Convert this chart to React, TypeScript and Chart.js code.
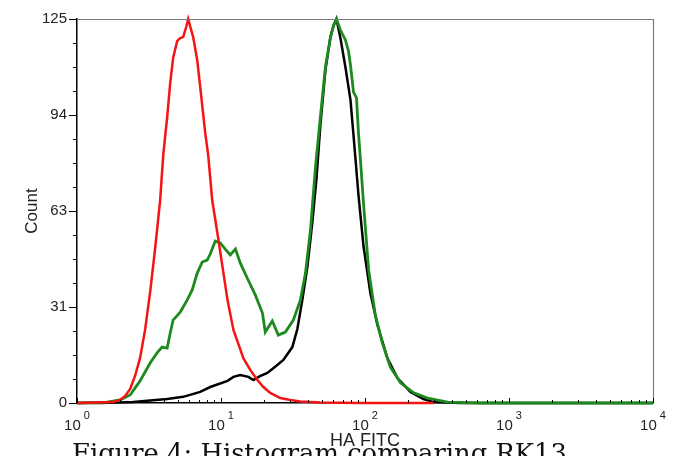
import React, { useEffect, useRef } from 'react';
import { Chart, registerables } from 'chart.js';

Chart.register(...registerables);

// ---- data (HA FITC intensity vs count) ----
const redX = [1, 1.78, 1.99, 2.16, 2.34, 2.53, 2.74, 2.97, 3.22, 3.49, 3.78, 3.97, 4.23, 4.44, 4.65, 4.96, 5.21, 5.46, 5.73, 5.92, 6.21, 6.41, 6.84, 7.17, 7.77, 8.15, 8.69, 9.42, 10.2, 11.1, 12.2, 14.3, 16.0, 17.9, 19.7, 22.0, 25.8, 30.3, 35.6, 49.0, 93.0, 300];
const redY = [0, 0.3, 1.0, 2.3, 4.6, 8.8, 14.6, 23.8, 36.1, 50.4, 66.0, 80.7, 93.1, 104.2, 112.3, 117.8, 118.8, 119.1, 122.4, 125, 121.4, 119.1, 111.6, 102.9, 87.9, 80.7, 66.0, 55.6, 44.9, 33.5, 23.8, 14.6, 10.7, 7.5, 5.2, 3.3, 1.6, 1.0, 0.5, 0.2, 0, 0];

const greenX = [1, 1.62, 1.99, 2.34, 2.74, 3.22, 3.60, 3.90, 4.23, 4.44, 4.65, 5.21, 5.82, 6.31, 6.84, 7.41, 8.02, 8.42, 9.12, 9.88, 10.7, 11.6, 12.6, 13.6, 15.2, 17.3, 19.4, 20.3, 22.7, 25.0, 28.0, 31.8, 35.6, 38.6, 41.8, 45.3, 49.0, 53.1, 57.5, 60.4, 63.3, 67.5, 73.1, 76.8, 79.3, 83.2, 87.3, 90.1, 93.0, 97.6, 106, 118, 132, 150, 177, 218, 272, 375, 636, 10000];
const greenY = [0, 0.3, 1.0, 2.6, 7.2, 13.0, 16.3, 18.2, 17.9, 22.8, 27.0, 29.6, 33.5, 36.8, 42.3, 45.9, 46.5, 48.5, 52.7, 52.1, 50.1, 48.2, 50.1, 45.6, 40.7, 35.2, 29.3, 23.1, 26.7, 22.1, 23.1, 27.0, 33.5, 42.3, 56.3, 76.8, 93.1, 109.4, 118.8, 123.0, 125, 121.4, 118.2, 114.6, 110.0, 101.2, 99.3, 87.9, 79.1, 65.1, 43.3, 28.6, 19.5, 11.7, 6.5, 3.3, 1.6, 0.3, 0, 0];

const blackX = [1, 1.45, 2.45, 4.23, 5.46, 7.17, 8.42, 11.1, 12.2, 13.6, 15.5, 16.8, 18.8, 21.0, 24.6, 27.1, 31.3, 33.9, 36.7, 39.8, 43.1, 46.0, 49.0, 53.1, 57.5, 60.4, 63.3, 67.5, 73.1, 79.3, 83.2, 90.1, 97.6, 109, 122, 143, 168, 207, 255, 300, 462, 10000];
const blackY = [0, 0, 0.3, 1.3, 2.0, 3.6, 5.2, 7.2, 8.5, 9.1, 8.5, 7.5, 8.8, 9.8, 12.4, 14.0, 18.2, 24.1, 33.5, 44.3, 58.9, 72.9, 90.5, 108.4, 119.1, 122.7, 125, 118.8, 109.4, 98.6, 87.2, 67.7, 51.1, 35.8, 25.4, 14.6, 8.1, 3.6, 1.3, 0.3, 0, 0];

// ---- axes ----
const xTickValues = [1, 10, 100, 1000, 10000];
const xTickExponents = ['0', '1', '2', '3', '4'];
const xMinorFactors = [2, 3, 4, 5, 6, 7, 8, 9];
const yTickValues = [0, 31.25, 62.5, 93.75, 125];
const yTickLabels = ['0', '31', '63', '94', '125'];
const yMinorPerMajor = 4;

const xTitle = 'HA FITC';
const yTitle = 'Count';
const caption = 'Figure 4: Histogram comparing RK13';

const SANS = '"Liberation Sans", Arial, sans-serif';
const SERIF = '"DejaVu Serif", "Liberation Serif", serif';

function pts(xs: number[], ys: number[]) {
  return xs.map((x, i) => ({ x, y: ys[i] }));
}

const decorPlugin = {
  id: 'decor',
  afterDraw(chart: any) {
    const { ctx, chartArea: a, scales } = chart;
    const xs = scales.x;
    const ys = scales.y;
    ctx.save();
    // frame (top / right)
    ctx.strokeStyle = '#7a7a7a';
    ctx.lineWidth = 1.2;
    ctx.beginPath();
    ctx.moveTo(a.left, a.top + 0.5);
    ctx.lineTo(a.right + 0.5, a.top + 0.5);
    ctx.lineTo(a.right + 0.5, a.bottom);
    ctx.stroke();

    // y ticks (outside)
    ctx.strokeStyle = '#000';
    ctx.lineWidth = 1;
    for (let m = 0; m < yTickValues.length; m++) {
      const v0 = yTickValues[m];
      const py = Math.round(ys.getPixelForValue(v0)) + 0.5;
      ctx.beginPath();
      ctx.moveTo(a.left - 8, py);
      ctx.lineTo(a.left, py);
      ctx.stroke();
      if (m < yTickValues.length - 1) {
        const step = (yTickValues[m + 1] - v0) / yMinorPerMajor;
        for (let k = 1; k < yMinorPerMajor; k++) {
          const pyy = Math.round(ys.getPixelForValue(v0 + k * step)) + 0.5;
          ctx.beginPath();
          ctx.moveTo(a.left - 4, pyy);
          ctx.lineTo(a.left, pyy);
          ctx.stroke();
        }
      }
    }

    // x ticks (inside)
    for (let d = 0; d < xTickValues.length; d++) {
      const v = xTickValues[d];
      const px = Math.round(xs.getPixelForValue(v)) + 0.5;
      ctx.beginPath();
      ctx.moveTo(px, a.bottom);
      ctx.lineTo(px, a.bottom - 5);
      ctx.stroke();
      if (d < xTickValues.length - 1) {
        for (const f of xMinorFactors) {
          const pm = Math.round(xs.getPixelForValue(v * f)) + 0.5;
          ctx.beginPath();
          ctx.moveTo(pm, a.bottom);
          ctx.lineTo(pm, a.bottom - 3);
          ctx.stroke();
        }
      }
    }

    // x tick labels 10^n
    ctx.fillStyle = '#222';
    ctx.textBaseline = 'middle';
    ctx.textAlign = 'left';
    xTickValues.forEach((v, i) => {
      const px = xs.getPixelForValue(v);
      ctx.font = `15px ${SANS}`;
      const w1 = ctx.measureText('10').width;
      ctx.font = `11px ${SANS}`;
      const w2 = ctx.measureText(xTickExponents[i]).width;
      const start = px - (w1 + 3 + w2) / 2;
      ctx.font = `15px ${SANS}`;
      ctx.fillText('10', start, a.bottom + 23);
      ctx.font = `11px ${SANS}`;
      ctx.fillText(xTickExponents[i], start + w1 + 3, a.bottom + 13);
    });

    // caption
    ctx.font = `28px ${SERIF}`;
    const wRef = ctx.measureText(caption).width;
    const size = 28 * 495 / wRef;
    ctx.font = `${size.toFixed(1)}px ${SERIF}`;
    ctx.fillStyle = '#111';
    ctx.textBaseline = 'alphabetic';
    const asc = ctx.measureText('F').actualBoundingBoxAscent;
    ctx.fillText(caption, 72, 443 + asc);
    ctx.restore();
  },
};

export default function App() {
  const ref = useRef<HTMLCanvasElement>(null);
  useEffect(() => {
    const canvas = ref.current;
    if (!canvas) return;
    const chart = new Chart(canvas, {
      type: 'line',
      data: {
        datasets: [
          { label: 'Control', data: pts(redX, redY), borderColor: '#f51414', borderWidth: 2.5, pointRadius: 0, tension: 0, fill: false, clip: false } as any,
          { label: 'Sample B', data: pts(greenX, greenY), borderColor: '#1d8a1d', borderWidth: 2.8, pointRadius: 0, tension: 0, fill: false, clip: false } as any,
          { label: 'Sample A', data: pts(blackX, blackY), borderColor: '#000000', borderWidth: 2.5, pointRadius: 0, tension: 0, fill: false, clip: false } as any,
        ],
      },
      options: {
        animation: false,
        responsive: false,
        devicePixelRatio: 1,
        layout: { padding: { top: 19, right: 20, left: 0, bottom: 0 } },
        plugins: { legend: { display: false }, tooltip: { enabled: false } },
        scales: {
          x: {
            type: 'logarithmic',
            min: 1,
            max: 10000,
            position: 'bottom',
            grid: { display: false, drawTicks: false },
            border: { display: true, color: '#000', width: 1.5 },
            ticks: { display: false },
            afterBuildTicks: (s: any) => { s.ticks = xTickValues.map((v) => ({ value: v })); },
            afterFit: (s: any) => { s.height = 53; },
            title: { display: true, text: xTitle, color: '#222', font: { family: SANS, size: 18 }, padding: { top: 0, bottom: 4 } },
          },
          y: {
            type: 'linear',
            min: 0,
            max: 125,
            grid: { display: false, drawTicks: false },
            border: { display: true, color: '#000', width: 1.5 },
            afterBuildTicks: (s: any) => { s.ticks = yTickValues.map((v) => ({ value: v })); },
            ticks: {
              autoSkip: false,
              padding: 10,
              color: '#222',
              font: { family: SANS, size: 15 },
              callback: (_v: any, i: number) => yTickLabels[i],
            },
            afterFit: (s: any) => { s.width = 77; },
            title: { display: true, text: yTitle, color: '#222', font: { family: SANS, size: 17 }, padding: { top: 22, bottom: 0 } },
          },
        },
      } as any,
      plugins: [decorPlugin],
    });
    return () => chart.destroy();
  }, []);
  return (
    <div style={{ position: 'absolute', left: 0, top: 0, width: 673, height: 456, background: '#fff' }}>
      <canvas ref={ref} width={673} height={456} style={{ width: 673, height: 456, display: 'block' }} />
    </div>
  );
}
